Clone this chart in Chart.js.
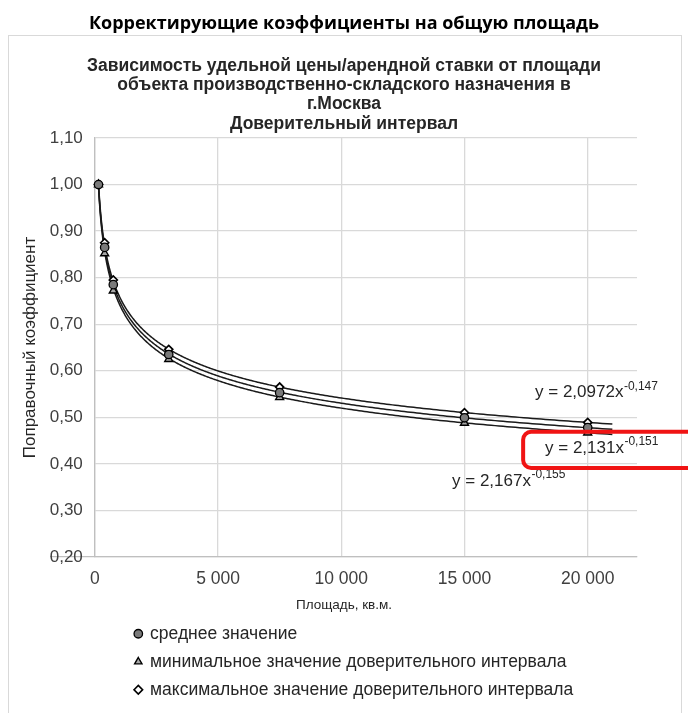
<!DOCTYPE html>
<html>
<head>
<meta charset="utf-8">
<script src="https://cdn.jsdelivr.net/npm/chart.js@4.4.1/dist/chart.umd.min.js"></script>
<style>
html,body{margin:0;padding:0;background:#fff;}
canvas{display:block;}
</style>
</head>
<body>
<canvas id="c" width="688" height="713"></canvas>
<script>
// ---- data ----
const areas = [150, 400, 750, 3000, 7500, 15000, 20000];
const meanValues = [1.000, 0.865, 0.785, 0.635, 0.553, 0.499, 0.478];
const minValues  = [1.000, 0.852, 0.772, 0.625, 0.543, 0.488, 0.467];
const maxValues  = [1.000, 0.875, 0.795, 0.646, 0.565, 0.510, 0.489];
const seriesNames = [
  'среднее значение',
  'минимальное значение доверительного интервала',
  'максимальное значение доверительного интервала'
];
const xTickValues = [0, 5000, 10000, 15000, 20000];
const xTickLabels = ['0', '5 000', '10 000', '15 000', '20 000'];
const yTickValues = [0.2, 0.3, 0.4, 0.5, 0.6, 0.7, 0.8, 0.9, 1.0, 1.1];
const yTickLabels = ['0,20','0,30','0,40','0,50','0,60','0,70','0,80','0,90','1,00','1,10'];
// power trend lines y = a * x^b (as printed in the chart): mean, min, max
const trendA = [2.131, 2.167, 2.0972];
const trendB = [-0.151, -0.155, -0.147];
const trendRange = [150, 21000];
const heading = 'Корректирующие коэффициенты на общую площадь';
const chartTitle = [
  'Зависимость удельной цены/арендной ставки от площади',
  'объекта производственно-складского назначения в',
  'г.Москва',
  'Доверительный интервал'
];
const xTitle = 'Площадь, кв.м.';
const yTitle = 'Поправочный коэффициент';

// ---- presentation ----
const FONT = '"Liberation Sans", Arial, sans-serif';
const toPts = vals => areas.map((a, i) => ({x: a, y: vals[i]}));
const fmt = n => String(n).replace('.', ',');

// equation label anchors (data units) for mean, min, max trend lines
const eqAnchors = [
  {x: 18268, y: 0.4344},
  {x: 14494, y: 0.3634},
  {x: 17862, y: 0.5527}
];
const highlight = {x: 17380, yTop: 0.4688, yBottom: 0.3914};
const OUTER_CENTER = 344;

const bgPlugin = {
  id: 'bg',
  beforeDraw(chart) {
    const c = chart.ctx;
    c.save();
    c.fillStyle = '#fff';
    c.fillRect(0, 0, chart.width, chart.height);
    c.strokeStyle = '#d9d9d9';
    c.lineWidth = 1;
    c.strokeRect(8.5, 35.5, 673, 700);
    c.restore();
  }
};

const trendPlugin = {
  id: 'trend',
  beforeDatasetsDraw(chart) {
    const {ctx: c, chartArea: ca, scales: {x, y}} = chart;
    c.save();
    c.beginPath();
    c.rect(ca.left, ca.top, ca.right - ca.left, ca.bottom - ca.top);
    c.clip();
    c.strokeStyle = '#1a1a1a';
    c.lineWidth = 1.5;
    const n = 500;
    const l0 = Math.log(trendRange[0]), l1 = Math.log(trendRange[1]);
    trendA.forEach((a, k) => {
      const b = trendB[k];
      c.beginPath();
      for (let i = 0; i <= n; i++) {
        const v = Math.exp(l0 + (l1 - l0) * i / n);
        const px = x.getPixelForValue(v);
        const py = y.getPixelForValue(a * Math.pow(v, b));
        if (i === 0) c.moveTo(px, py); else c.lineTo(px, py);
      }
      c.stroke();
    });
    c.restore();
  },
  afterDraw(chart) {
    const {ctx: c, scales: {x, y}} = chart;
    c.save();
    c.textAlign = 'left';
    c.textBaseline = 'middle';
    c.fillStyle = '#262626';
    trendA.forEach((a, k) => {
      const px = x.getPixelForValue(eqAnchors[k].x);
      const py = y.getPixelForValue(eqAnchors[k].y);
      const main = 'y = ' + fmt(a) + 'x';
      c.font = '17px ' + FONT;
      c.fillText(main, px, py);
      const w = c.measureText(main).width;
      c.font = '12px ' + FONT;
      c.fillText(fmt(trendB[k]), px + w + 0.5, py - 6);
    });
    // red highlight frame
    const left = x.getPixelForValue(highlight.x);
    const top = y.getPixelForValue(highlight.yTop);
    const bottom = y.getPixelForValue(highlight.yBottom);
    const right = chart.width + 30;
    c.strokeStyle = '#f01414';
    c.lineWidth = 4;
    c.beginPath();
    if (c.roundRect) c.roundRect(left, top, right - left, bottom - top, 8);
    else c.rect(left, top, right - left, bottom - top);
    c.stroke();
    c.restore();
  }
};

// center titles on the outer frame (as in the reference) and indent the legend
const layoutTweak = {
  id: 'layoutTweak',
  afterLayout(chart) {
    chart.boxes.forEach(b => {
      if (b === chart.legend || b.axis) return;
      const d = OUTER_CENTER - (b.left + b.right) / 2;
      b.left += d; b.right += d;
    });
    const l = chart.legend;
    if (l) { l.left += 30; l.right += 30; }
    const xs = chart.scales.x;
    const dx = OUTER_CENTER - (xs.left + xs.right) / 2;
    xs.left += 2 * dx;
  }
};

new Chart(document.getElementById('c'), {
  type: 'scatter',
  data: {
    datasets: [
      {label: seriesNames[0], data: toPts(meanValues), pointStyle: 'circle', pointRadius: 4.2,
       backgroundColor: '#7a7a7a', borderColor: '#000', borderWidth: 1.3},
      {label: seriesNames[1], data: toPts(minValues), pointStyle: 'triangle', pointRadius: 4.6,
       backgroundColor: '#a8a8a8', borderColor: '#000', borderWidth: 1.4},
      {label: seriesNames[2], data: toPts(maxValues), pointStyle: 'rectRot', pointRadius: 4,
       backgroundColor: '#fff', borderColor: '#000', borderWidth: 1.7}
    ]
  },
  options: {
    responsive: false,
    animation: false,
    devicePixelRatio: 1,
    layout: {padding: {left: 8, right: 51, top: 0, bottom: 4.5}},
    plugins: {
      title: {display: true, text: heading, color: '#000',
        font: {family: '"Open Sans", sans-serif', weight: 'bold', size: 18}, padding: {top: 13.2, bottom: 10}},
      subtitle: {display: true, text: chartTitle, color: '#262626',
        font: {family: FONT, weight: 'bold', size: 17.5, lineHeight: 1.11}, padding: {top: 11.2, bottom: 4.3}},
      legend: {display: true, position: 'bottom', align: 'start', fullSize: false,
        labels: {usePointStyle: true, boxWidth: 6, boxHeight: 6, padding: 10.5, color: '#262626',
          font: {family: FONT, size: 17.5}}},
      tooltip: {enabled: false}
    },
    scales: {
      x: {
        type: 'linear', min: 0, max: 22000,
        afterBuildTicks(s) { s.ticks = xTickValues.map(v => ({value: v})); },
        ticks: {padding: 11.8, color: '#404040', maxRotation: 0, autoSkip: false,
          font: {family: FONT, size: 17.5}, callback: (v, i) => xTickLabels[i]},
        grid: {color: '#d9d9d9', lineWidth: 1.3, drawTicks: false},
        border: {color: '#bfbfbf', width: 1.3},
        title: {display: true, text: xTitle, color: '#262626', font: {family: FONT, size: 13.5},
          padding: {top: -4, bottom: 0.7}}
      },
      y: {
        type: 'linear', min: 0.2, max: 1.1,
        afterBuildTicks(s) { s.ticks = yTickValues.map(v => ({value: v})); },
        ticks: {padding: 12, color: '#404040', font: {family: FONT, size: 17},
          callback: (v, i) => yTickLabels[i]},
        grid: {color: '#d9d9d9', lineWidth: 1.3, drawTicks: false},
        border: {color: '#bfbfbf', width: 1.3},
        title: {display: true, text: yTitle, color: '#262626', font: {family: FONT, size: 17}, padding: {top: 11.8, bottom: 0}},
        afterFit(s) { s.width = 86.8; }
      }
    }
  },
  plugins: [bgPlugin, trendPlugin, layoutTweak]
});
</script>
</body>
</html>
